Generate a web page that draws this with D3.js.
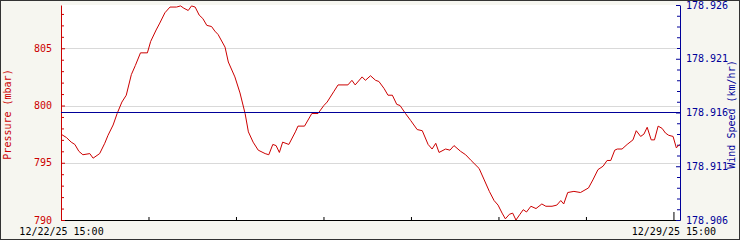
<!DOCTYPE html>
<html>
<head>
<meta charset="utf-8">
<script src="https://cdn.jsdelivr.net/npm/d3@7"></script>
<style>
  body { margin: 0; }
  svg { display: block; }
  text { font-family: "DejaVu Sans Mono", monospace; font-size: 10px; }
</style>
</head>
<body>
<svg width="740" height="240"></svg>
<script>
  // DATA (hours after 12/22/25 15:00)
  const hours = [0, 1.5, 2.8, 3.8, 4.9, 6.0, 7.9, 8.8, 10.6, 12.0,
    12.9, 14.3, 15.4, 16.7, 17.9, 19.3, 20.4, 21.8, 23.7, 24.6,
    26.1, 27.1, 28.5, 29.9, 31.7, 32.8, 33.7, 34.9, 35.8, 36.8,
    37.9, 38.9, 40.0, 41.3, 42.2, 43.1, 45.0, 45.9, 47.7, 49.1,
    50.5, 51.4, 52.7, 54.1, 56.0, 57.0, 58.1, 59.0, 59.9, 60.8,
    62.5, 64.3, 65.0, 66.8, 68.8, 70.5, 72.1, 73.0, 74.8, 76.0,
    78.7, 79.8, 80.7, 82.6, 83.5, 84.9, 86.3, 87.2, 88.6, 89.7,
    90.9, 92.1, 93.0, 94.5, 95.9, 97.7, 99.1, 100.7, 101.8, 102.8,
    103.7, 105.5, 106.7, 107.8, 109.6, 111.0, 112.5, 114.7, 116.1, 117.5,
    118.8, 119.9, 121.0, 121.9, 123.0, 123.9, 124.8, 125.9, 126.8, 127.7,
    128.9, 130.3, 131.9, 133.0, 134.7, 136.0, 137.1, 137.9, 139.0, 140.7,
    142.5, 144.7, 145.9, 147.3, 148.7, 149.8, 150.8, 151.9, 152.6, 153.9,
    155.3, 156.9, 157.8, 159.0, 159.9, 160.8, 161.9, 162.8, 163.8, 164.9,
    165.8, 166.7, 167.9, 168.8, 169.7];
  const pressure = [797.5, 797.2, 796.8, 796.6, 796.0, 795.7, 795.8, 795.4, 795.8, 796.7,
    797.4, 798.3, 799.3, 800.3, 800.9, 802.7, 803.5, 804.6, 804.6, 805.6,
    806.6, 807.2, 808.1, 808.6, 808.6, 808.7, 808.5, 808.3, 808.7, 808.6,
    807.9, 807.6, 807.0, 806.9, 806.5, 806.2, 805.1, 803.8, 802.5, 801.1,
    799.3, 797.7, 796.8, 796.1, 795.8, 795.7, 796.6, 796.5, 795.9, 796.8,
    796.6, 797.7, 798.2, 798.2, 799.3, 799.3, 800.0, 800.3, 801.2, 801.8,
    801.8, 802.2, 801.8, 802.5, 802.2, 802.6, 802.2, 802.1, 801.5, 800.9,
    800.9, 800.1, 800.0, 799.3, 798.7, 797.9, 797.8, 796.6, 796.2, 796.7,
    795.9, 796.2, 796.1, 796.5, 796.0, 795.7, 795.2, 794.5, 793.5, 792.5,
    791.7, 791.3, 790.6, 790.1, 790.5, 790.6, 790.0, 790.5, 790.9, 790.7,
    791.2, 791.0, 791.4, 791.2, 791.2, 791.3, 791.7, 791.4, 792.4, 792.5,
    792.4, 792.8, 793.5, 794.4, 794.7, 795.2, 795.2, 796.1, 796.2, 796.2,
    796.6, 797.0, 797.8, 797.3, 797.5, 798.1, 797.0, 797.0, 798.2, 798.0,
    797.6, 797.4, 797.3, 796.3, 796.6];
  const windHours = [0, 169.8];
  const windSpeed = [178.916, 178.916];

  const pressureTicks = [790, 795, 800, 805];
  const pressureMinor = [791, 792, 793, 794, 796, 797, 798, 799, 801, 802, 803, 804, 806, 807, 808];
  const windTicks = [178.906, 178.911, 178.916, 178.921, 178.926];
  const windMinor = [178.907, 178.908, 178.909, 178.910, 178.912, 178.913, 178.914, 178.915,
    178.917, 178.918, 178.919, 178.920, 178.922, 178.923, 178.924, 178.925];
  const dayTicks = [0, 24, 48, 72, 96, 120, 144, 168];

  // SVG PARAMETERS
  const svg = d3.select("svg");
  const width = +svg.attr("width");
  const height = +svg.attr("height");

  const start = new Date(2025, 11, 22, 15, 0);
  const toDate = (h) => new Date(start.getTime() + h * 3600000);
  const fmt = d3.timeFormat("%m/%d/%y %H:%M");

  const margin = { top: 5, right: 60, bottom: 20, left: 61 };
  const innerWidth = width - margin.left - margin.right;
  const innerHeight = height - margin.top - margin.bottom;
  const red = "#cc0000";
  const blue = "#000099";

  // BACKGROUND
  svg.append("rect")
    .attr("x", 0.5).attr("y", 0.5)
    .attr("width", width - 1).attr("height", height - 1)
    .attr("fill", "#f6f6f0")
    .attr("stroke", "#333");

  const g = svg.append("g")
    .attr("transform", `translate(${margin.left},${margin.top})`);

  g.append("rect")
    .attr("width", innerWidth)
    .attr("height", innerHeight)
    .attr("fill", "#fff");

  // SCALES
  const xScale = d3.scaleTime()
    .domain([start, toDate(169.8)])
    .range([0, innerWidth]);
  const yLeft = d3.scaleLinear()
    .domain([790, 808.78])
    .range([innerHeight, 0]);
  const yRight = d3.scaleLinear()
    .domain([178.906, 178.926])
    .range([innerHeight, 0]);

  // GRID
  g.selectAll(".grid")
    .data(pressureTicks.slice(1))
    .enter()
    .append("line")
    .attr("x1", 0).attr("x2", innerWidth)
    .attr("y1", (d) => Math.round(yLeft(d)) + 0.5)
    .attr("y2", (d) => Math.round(yLeft(d)) + 0.5)
    .attr("stroke", "#d9d9d9");

  // X AXIS
  const xAxisG = g.append("g")
    .attr("transform", `translate(0,${innerHeight})`)
    .call(d3.axisBottom(xScale)
      .tickValues(dayTicks.map(toDate))
      .tickFormat((d, i) => (i === 0 || i === dayTicks.length - 1 ? fmt(d) : ""))
      .tickSizeInner(-3)
      .tickSizeOuter(0)
      .tickPadding(8));
  xAxisG.attr("color", "#000").attr("font-family", null).attr("font-size", null);
  xAxisG.selectAll(".tick line")
    .attr("y2", (d, i) => (i === dayTicks.length - 1 ? -8 : -3));

  // LEFT AXIS (PRESSURE)
  const leftMinorG = g.append("g")
    .call(d3.axisLeft(yLeft).tickValues(pressureMinor).tickFormat("").tickSize(-3));
  leftMinorG.attr("color", red).select(".domain").remove();
  const leftG = g.append("g")
    .call(d3.axisLeft(yLeft).tickValues(pressureTicks).tickSizeInner(-4).tickSizeOuter(0).tickPadding(9));
  leftG.attr("color", red).attr("font-family", null).attr("font-size", null);

  // RIGHT AXIS (WIND SPEED)
  const rightMinorG = g.append("g")
    .attr("transform", `translate(${innerWidth},0)`)
    .call(d3.axisRight(yRight).tickValues(windMinor).tickFormat("").tickSize(-3));
  rightMinorG.attr("color", blue).select(".domain").remove();
  const rightG = g.append("g")
    .attr("transform", `translate(${innerWidth},0)`)
    .call(d3.axisRight(yRight).tickValues(windTicks).tickFormat(d3.format(".3f"))
      .tickSizeInner(-4).tickSizeOuter(0).tickPadding(6));
  rightG.attr("color", blue).attr("font-family", null).attr("font-size", null);

  // DROP EMPTY TICK LABELS
  g.selectAll(".tick text").filter(function () { return !this.textContent; }).remove();

  // LINES
  const pressureLine = d3.line()
    .x((d, i) => xScale(toDate(hours[i])))
    .y((d) => yLeft(d));
  g.append("path")
    .datum(pressure)
    .attr("d", pressureLine)
    .attr("fill", "none")
    .attr("stroke", red)
    .attr("stroke-width", 1);

  const windLine = d3.line()
    .x((d, i) => xScale(toDate(windHours[i])))
    .y((d) => yRight(d));
  g.append("path")
    .datum(windSpeed)
    .attr("d", windLine)
    .attr("fill", "none")
    .attr("stroke", blue)
    .attr("stroke-width", 1.2);

  // AXIS TITLES
  svg.append("text")
    .attr("transform", `translate(11,${margin.top + innerHeight / 2 + 2}) rotate(-90)`)
    .attr("text-anchor", "middle")
    .attr("fill", red)
    .text("Pressure (mbar)");
  svg.append("text")
    .attr("transform", `translate(735,${margin.top + innerHeight / 2 + 2}) rotate(-90)`)
    .attr("text-anchor", "middle")
    .attr("fill", blue)
    .text("Wind Speed (km/hr)");
</script>
</body>
</html>
